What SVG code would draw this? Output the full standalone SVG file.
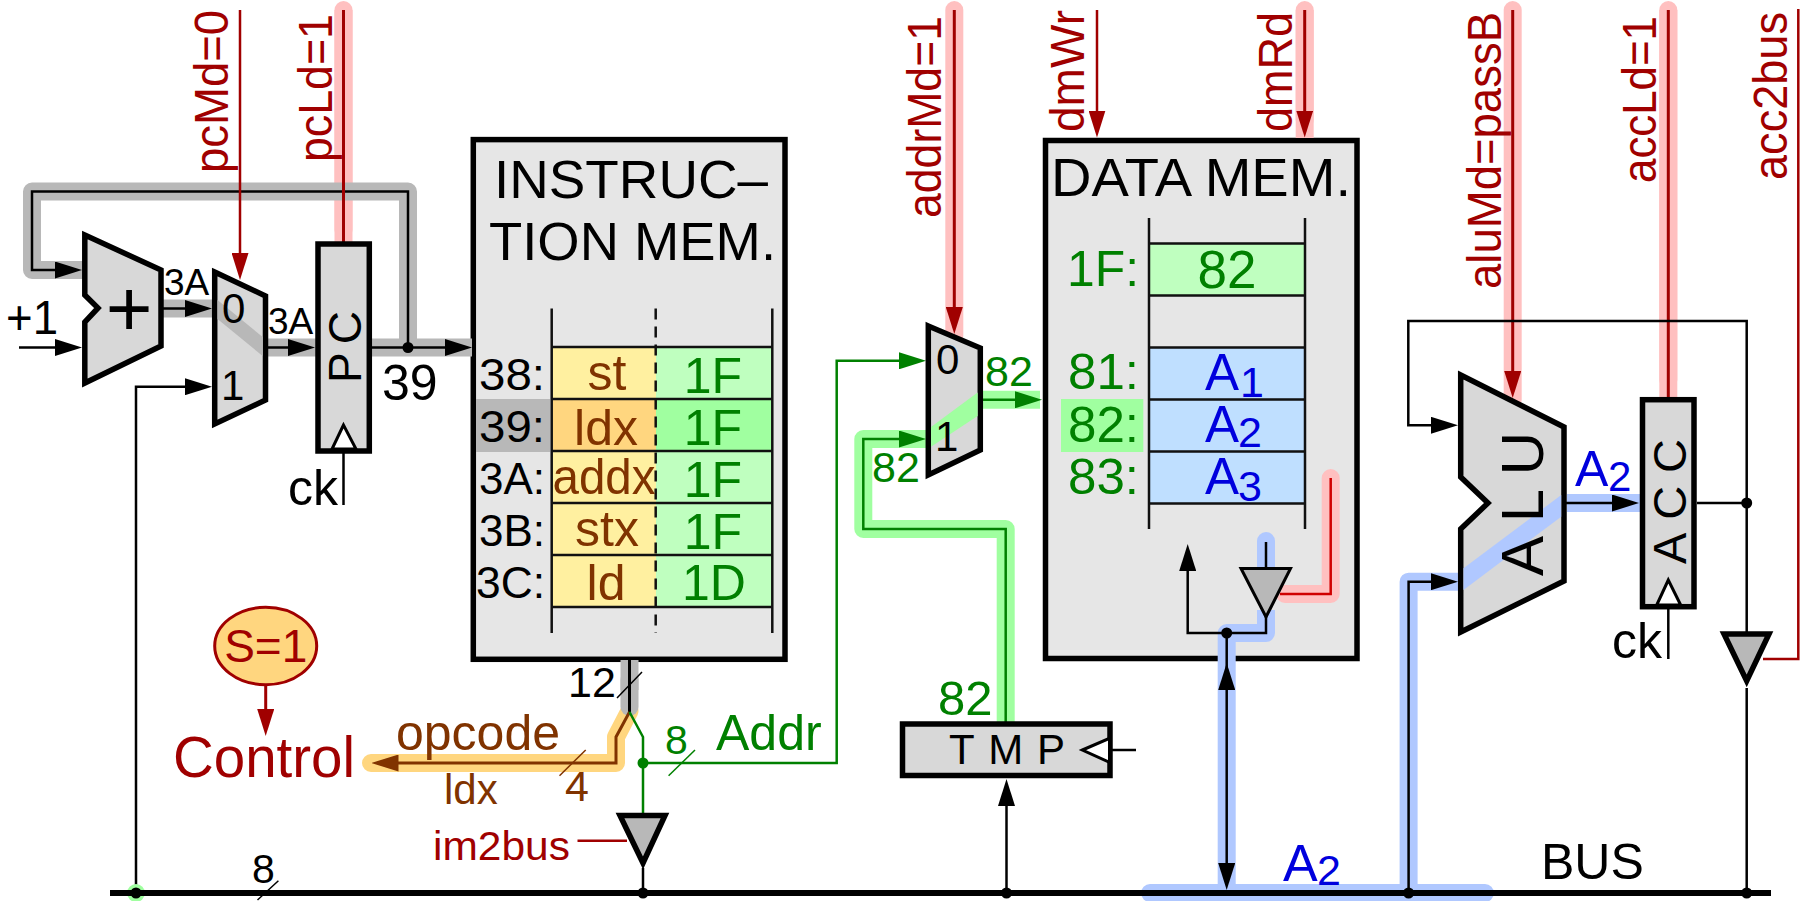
<svg xmlns="http://www.w3.org/2000/svg" width="1807" height="901" viewBox="0 0 1807 901">
<style>
text{font-family:"Liberation Sans",Arial,sans-serif}
.k{fill:#000}.r{fill:#a00000}.g{fill:#008000}.b{fill:#803300}.u{fill:#0000dd}
.m{text-anchor:middle}
.box{stroke:#000;stroke-width:5.5;fill:#d8d8d8;stroke-linejoin:miter}
.mem{stroke:#000;stroke-width:5.5;fill:#e6e6e6}
.tl{stroke:#111;stroke-width:2.5;fill:none}
.w{fill:none;stroke-width:2.5;stroke-linejoin:miter}
.wk{stroke:#000}.wr{stroke:#a00000}.wg{stroke:#008000}.wb{stroke:#803300}
.h{fill:none;stroke-width:18;stroke-linejoin:round}
.hp{stroke:#ffc0c0}.hg{stroke:#b8b8b8}.hgr{stroke:#a0ffa0}.hb{stroke:#b0c8ff}.ho{stroke:#ffd67f}
.rc{stroke-linecap:round}
.ak{marker-end:url(#ak)}.ar{marker-end:url(#ar)}.ag{marker-end:url(#ag)}.ab{marker-end:url(#ab)}
.clk{fill:#fff;stroke:#000;stroke-width:3}
.tri{fill:#b8b8b8;stroke:#000;stroke-width:5.5}
.sl{stroke-width:1.5;fill:none}
</style>
<defs>
<marker id="ak" markerUnits="userSpaceOnUse" markerWidth="27" markerHeight="17" refX="21" refY="8.5" orient="auto-start-reverse"><polygon points="0,0 27,8.5 0,17" fill="#000"/></marker>
<marker id="ar" markerUnits="userSpaceOnUse" markerWidth="27" markerHeight="17" refX="21" refY="8.5" orient="auto"><polygon points="0,0 27,8.5 0,17" fill="#a00000"/></marker>
<marker id="ag" markerUnits="userSpaceOnUse" markerWidth="27" markerHeight="17" refX="21" refY="8.5" orient="auto"><polygon points="0,0 27,8.5 0,17" fill="#008000"/></marker>
<marker id="ab" markerUnits="userSpaceOnUse" markerWidth="27" markerHeight="17" refX="21" refY="8.5" orient="auto"><polygon points="0,0 27,8.5 0,17" fill="#803300"/></marker>
</defs>

<g id="instruction-memory">
<rect class="mem" x="473.3" y="139.6" width="311.7" height="519.7"/>
<rect x="476" y="399" width="74" height="53" fill="#b8b8b8"/>
<rect x="552" y="347" width="104" height="260" fill="#fff0a0"/>
<rect x="656" y="347" width="116" height="260" fill="#bfffbf"/>
<rect x="552" y="399" width="104" height="52" fill="#ffd67f"/>
<rect x="656" y="399" width="116" height="52" fill="#a0ffa0"/>
<path class="tl" d="M551.7 308.6V633M772.3 308.6V633M552 347H772M552 399H772M552 451H772M552 503H772M552 555H772M552 607H772"/>
<path class="tl" stroke-dasharray="11 7" d="M655.7 308.6V633"/>
<text class="k" x="494" y="198" font-size="54" textLength="274" lengthAdjust="spacingAndGlyphs">INSTRUC–</text>
<text class="k" x="489" y="260" font-size="54" textLength="287" lengthAdjust="spacingAndGlyphs">TION MEM.</text>
<g font-size="45" class="k">
<text x="479" y="389.6" textLength="66" lengthAdjust="spacingAndGlyphs">38:</text>
<text x="479" y="442" textLength="66" lengthAdjust="spacingAndGlyphs">39:</text>
<text x="479" y="494" textLength="66" lengthAdjust="spacingAndGlyphs">3A:</text>
<text x="479" y="546" textLength="66" lengthAdjust="spacingAndGlyphs">3B:</text>
<text x="476" y="598" textLength="69" lengthAdjust="spacingAndGlyphs">3C:</text>
</g>
<g font-size="50" class="b m">
<text x="607" y="389.6">st</text>
<text x="606" y="445">ldx</text>
<text x="604" y="494" textLength="103" lengthAdjust="spacingAndGlyphs">addx</text>
<text x="607" y="546">stx</text>
<text x="606" y="600">ld</text>
</g>
<g font-size="50" class="g m">
<text x="713" y="393">1F</text>
<text x="713" y="445">1F</text>
<text x="713" y="497">1F</text>
<text x="713" y="549">1F</text>
<text x="714" y="600">1D</text>
</g>
</g>

<g id="data-memory">
<rect class="mem" x="1045.5" y="140.5" width="311.5" height="518"/>
<rect x="1061" y="399" width="82.3" height="53" fill="#a0ffa0"/>
<rect x="1149" y="243.5" width="156" height="52" fill="#bfffbf"/>
<rect x="1149" y="347.5" width="156" height="156" fill="#bfdfff"/>
<path class="tl" d="M1149 218V529M1305 218V529M1149 243.5H1305M1149 295.5H1305M1149 347.5H1305M1149 399.5H1305M1149 451.5H1305M1149 503.5H1305"/>
<text class="k" x="1051" y="196.4" font-size="53" textLength="300" lengthAdjust="spacingAndGlyphs">DATA MEM.</text>
<g font-size="50" class="g">
<text x="1067" y="286" textLength="72" lengthAdjust="spacingAndGlyphs">1F:</text>
<text x="1068" y="389.4" textLength="71" lengthAdjust="spacingAndGlyphs">81:</text>
<text x="1068" y="442.3" textLength="71" lengthAdjust="spacingAndGlyphs">82:</text>
<text x="1068" y="494.4" textLength="71" lengthAdjust="spacingAndGlyphs">83:</text>
</g>
<text class="g m" x="1227" y="288.4" font-size="53">82</text>
<g class="u" font-size="51">
<text x="1205" y="390">A</text><text x="1240" y="396.8" font-size="43">1</text>
<text x="1205" y="442.3">A</text><text x="1238" y="446.7" font-size="43">2</text>
<text x="1205" y="494.4">A</text><text x="1238" y="501" font-size="43">3</text>
</g>
</g>

<g id="connectors">
<path class="h hb rc" d="M1150 893H1485"/>
<path class="h hb" d="M1408.6 893V581.7H1462"/>
<path class="h hb" d="M1226.7 893V633H1266V610"/>
<path class="h hb rc" d="M1266 541V570"/>
<path class="h hb" d="M1567 503H1641"/>
<path class="h hp rc" d="M1330.7 478V594H1285"/>
<path class="h hp rc" d="M343.5 10V230"/>
<path class="h hp" d="M343.5 10V245"/>
<path class="h hp rc" d="M954.3 10V336"/>
<path class="h hp rc" d="M1304.7 10V120"/>
<path class="h hp" d="M1304.7 10V138"/>
<path class="h hp rc" d="M1512.7 10V400"/>
<path class="h hp rc" d="M1668.3 10V380"/>
<path class="h hp" d="M1668.3 10V398"/>
<path class="h hgr" d="M1040 399.8H982"/>
<path class="h hgr" d="M1005.7 722V529H863.3V439H928"/>
<path class="h ho rc" d="M629.5 711L616 737V763H371"/>
<path class="h hg rc" d="M629.5 680V707"/>
<path class="h hg" d="M629.5 660V690"/>
<path class="h hg" d="M408 347.5V191.5H32V270H86"/>
<path class="h hg" d="M162 308.5H216M266 347.5H317M370 347.5H472"/>

<path class="w wk" style="stroke-width:3" d="M629.5 660V712"/>
<path class="w wb ab" style="stroke-width:3" d="M629.5 712L616 737V763H377.5"/>
<path class="w wg" d="M629.5 712L643 737V815"/>
<path class="w wg ag" d="M643 763H836.7V360.8H920"/>
<path class="w wg ag" d="M1005.7 722V529H863.3V439H920"/>
<path class="w wg ag" d="M981 399.8H1036"/>
<path class="w wk ak" d="M408 347.5V191.5H32V270H76"/>
<path class="w wk ak" d="M19 347.5H76"/>
<path class="w wk ak" d="M162 308.5H206"/>
<path class="w wk ak" d="M266 347.5H309"/>
<path class="w wk ak" d="M370 347.5H466"/>
<path class="w wk ak" d="M136 893V386.7H206"/>
<path class="w wk" d="M343.5 451V505"/>
<path class="w wr ar" d="M240 10V274"/>
<path class="w wr" style="stroke-width:3" d="M343.5 10V244"/>
<path class="w wr ar" style="stroke-width:3" d="M954.3 10V328"/>
<path class="w wr ar" d="M1097 10V131.5"/>
<path class="w wr ar" style="stroke-width:3" d="M1304.7 10V131.5"/>
<path class="w wr ar" style="stroke-width:3" d="M1512.7 10V392"/>
<path class="w wr" style="stroke-width:3" d="M1668.3 10V400"/>
<path class="w wr" d="M1798.3 9V659H1763"/>
<path class="w wr" d="M577.5 840.7H627"/>
<path class="w" stroke="#d00000" d="M1330.7 478V594H1280"/>
<path class="w wk" d="M1266 542V567"/>
<path class="w wk" d="M1266 615V633H1226.7"/>
<path class="w wk ak" d="M1226.7 633H1187.7V550"/>
<path class="w wk" d="M1226.7 633V670"/>
<path class="w wk ak" style="marker-start:url(#ak)" d="M1226.7 669V884"/>
<path class="w wk ak" d="M1408.6 893V581.7H1452"/>
<path class="w wk ak" d="M1746.7 632V321H1408.3V425.3H1452"/>
<path class="w wk ak" d="M1565 503H1633"/>
<path class="w wk" d="M1697 503H1746.7"/>
<path class="w wk" d="M1746.7 688V893"/>
<path class="w wk" d="M1668.3 607V659"/>
<path class="w wk ak" d="M1006.5 893V785"/>
<path class="w wk" d="M1112 750H1136"/>
<path class="w wk" d="M643 868V893"/>
<circle cx="136" cy="893" r="9" fill="#a0ffa0"/>
<path d="M110 893H1771" fill="none" stroke="#000" stroke-width="6"/>
<circle cx="136" cy="893" r="5.5" fill="#000"/>
<circle cx="643" cy="893" r="5.5" fill="#000"/>
<circle cx="1006.5" cy="893" r="5.5" fill="#000"/>
<circle cx="1408.6" cy="893" r="5.5" fill="#000"/>
<circle cx="1746.7" cy="893" r="5.5" fill="#000"/>
<circle cx="408" cy="347.5" r="5.5" fill="#000"/>
<circle cx="1226.7" cy="633" r="5.5" fill="#000"/>
<circle cx="1746.7" cy="503" r="5.5" fill="#000"/>
<circle cx="643" cy="763" r="5.5" fill="#008000"/>
<path class="sl" stroke="#000" d="M617 698L642 672M257.5 900L278.4 880.7"/>
<path class="sl" stroke="#803300" d="M559.5 775.7L585.7 750"/>
<path class="sl" stroke="#008000" d="M668.6 775.7L695 750"/>
</g>

<g id="adder">
<polygon class="box" points="84.8,235 161,270 161,346 84.8,383 84.8,322 98,308 84.8,295"/>
<text class="k m" x="129" y="336" font-size="80">+</text>
</g>
<g id="pc-mux">
<polygon class="box" points="214.7,272 265.5,296 265.5,400 214.7,424"/>
<polygon points="217.5,300 262.7,337 262.7,356 217.5,319" fill="#b8b8b8"/>
<text class="k" x="222" y="322.5" font-size="42">0</text>
<text class="k" x="221" y="400" font-size="42">1</text>
</g>
<g id="pc">
<rect class="box" x="318" y="244" width="51.3" height="207"/>
<polygon class="clk" points="343.5,425 332,449 356,449"/>
<text class="k" transform="rotate(-90 361 383)" x="361" y="383" font-size="46" textLength="72">PC</text>
</g>
<g id="addr-mux">
<polygon class="box" points="928.3,326 980.3,348 980.3,450 928.3,475"/>
<polygon points="931,427 977.6,392.5 977.6,416 931,446.7" fill="#a0ffa0"/>
<text class="k" x="936" y="374" font-size="42">0</text>
<text class="k" x="935" y="451" font-size="42">1</text>
</g>
<g id="tmp">
<rect class="box" x="902.5" y="724" width="207.5" height="51.5"/>
<polygon class="clk" points="1082.4,750 1109.5,738.3 1109.5,762.3"/>
<text class="k" x="949" y="764" font-size="42" textLength="116">TMP</text>
</g>
<g id="alu">
<polygon class="box" points="1460.7,375 1564,427 1564,581 1460.7,632 1460.7,529 1488,503 1460.7,477"/>
<polygon points="1463.5,568.3 1561.2,495 1561.2,516.7 1463.5,590" fill="#b0c8ff"/>
<text class="k" transform="rotate(-90 1543.3 576)" x="1543.3" y="576" font-size="60" textLength="144">ALU</text>
</g>
<g id="acc">
<rect class="box" x="1642.5" y="399.7" width="51.5" height="207"/>
<polygon class="clk" points="1668.3,580 1656.7,605 1680.7,605"/>
<text class="k" transform="rotate(-90 1686 564)" x="1686" y="564" font-size="47" textLength="125">ACC</text>
</g>
<g id="im2bus-buffer"><polygon class="tri" points="620,815.5 665,815.5 643,863"/></g>
<g id="dm-buffer"><polygon class="tri" style="stroke-width:3" points="1241,568.5 1290.5,568.5 1266,617"/></g>
<g id="acc2bus-buffer"><polygon class="tri" points="1724,634 1769,634 1746.7,681"/></g>
<g id="status">
<ellipse cx="265.7" cy="646" rx="51" ry="38.7" fill="#ffd67f" stroke="#a00000" stroke-width="3"/>
<text class="r m" x="265.7" y="661.7" font-size="46">S=1</text>
<path class="w wr ar" style="stroke-width:3" d="M265.7 685V730"/>
</g>
<g id="labels">
<g class="r" font-size="48">
<text transform="rotate(-90 227.5 173)" x="227.5" y="173" textLength="163" lengthAdjust="spacingAndGlyphs">pcMd=0</text>
<text transform="rotate(-90 331.7 162)" x="331.7" y="162" textLength="148" lengthAdjust="spacingAndGlyphs">pcLd=1</text>
<text transform="rotate(-90 941 218)" x="941" y="218" textLength="202" lengthAdjust="spacingAndGlyphs">addrMd=1</text>
<text transform="rotate(-90 1084.3 132)" x="1084.3" y="132" textLength="122" lengthAdjust="spacingAndGlyphs">dmWr</text>
<text transform="rotate(-90 1292.3 132)" x="1292.3" y="132" textLength="120" lengthAdjust="spacingAndGlyphs">dmRd</text>
<text transform="rotate(-90 1501 289)" x="1501" y="289" textLength="277" lengthAdjust="spacingAndGlyphs">aluMd=passB</text>
<text transform="rotate(-90 1656 183)" x="1656" y="183" textLength="167" lengthAdjust="spacingAndGlyphs">accLd=1</text>
<text transform="rotate(-90 1786.7 180)" x="1786.7" y="180" textLength="168" lengthAdjust="spacingAndGlyphs">acc2bus</text>
</g>
<g class="k">
<text x="164" y="295" font-size="37">3A</text>
<text x="268" y="334" font-size="37">3A</text>
<text x="6" y="334" font-size="48" textLength="52" lengthAdjust="spacingAndGlyphs">+1</text>
<text x="382" y="400" font-size="50">39</text>
<text x="288" y="505" font-size="50">ck</text>
<text x="1612" y="658" font-size="50">ck</text>
<text x="568" y="696.7" font-size="43">12</text>
<text x="252" y="883" font-size="41">8</text>
<text x="1541" y="879" font-size="50">BUS</text>
</g>
<text class="r" x="173" y="776.7" font-size="58" textLength="182" lengthAdjust="spacingAndGlyphs">Control</text>
<text class="r" x="433" y="860" font-size="41" textLength="137" lengthAdjust="spacingAndGlyphs">im2bus</text>
<g class="b">
<text x="396" y="750" font-size="50">opcode</text>
<text x="444" y="804" font-size="42">ldx</text>
<text x="565" y="801" font-size="43">4</text>
</g>
<g class="g">
<text x="665" y="754" font-size="41">8</text>
<text x="716" y="750" font-size="50">Addr</text>
<text x="985" y="386" font-size="43">82</text>
<text x="872" y="482" font-size="43">82</text>
<text x="938" y="715" font-size="49">82</text>
</g>
<g class="u">
<text x="1283" y="881" font-size="52">A</text><text x="1317" y="885" font-size="43">2</text>
<text x="1575" y="486" font-size="50">A</text><text x="1608" y="491" font-size="42">2</text>
</g>
</g>
</svg>
